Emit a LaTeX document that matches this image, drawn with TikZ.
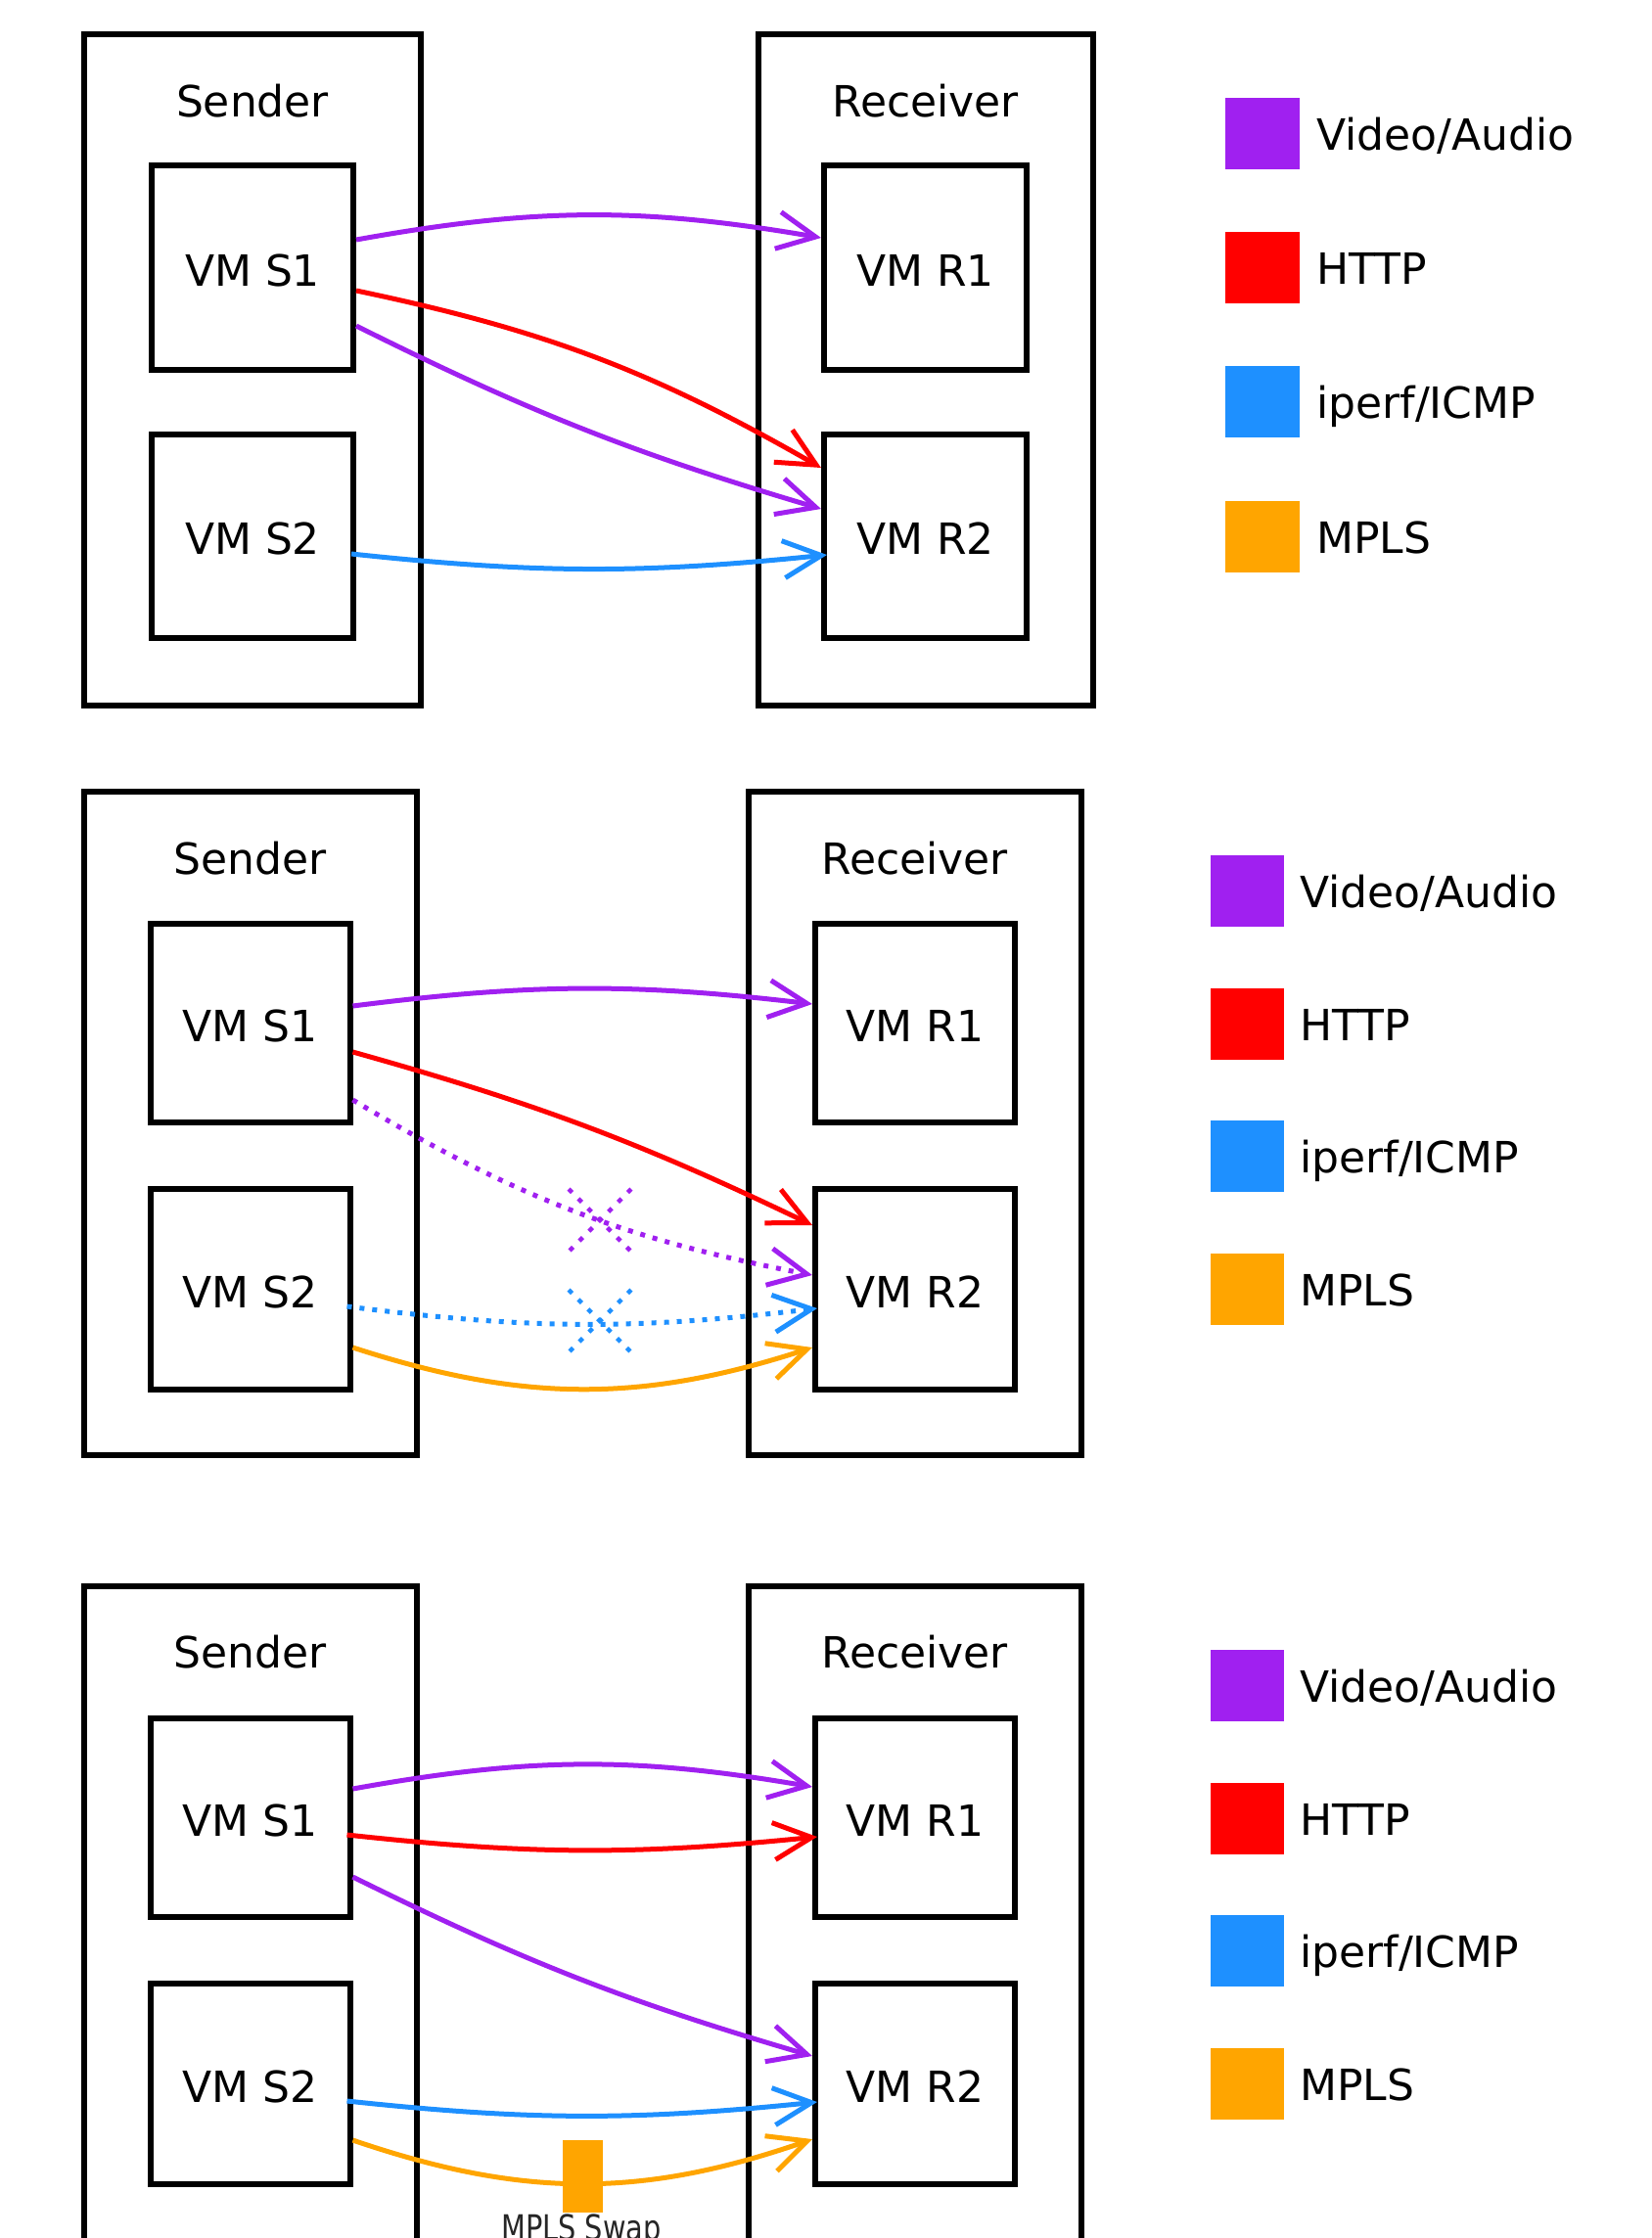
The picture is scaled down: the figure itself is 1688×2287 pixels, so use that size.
\documentclass[tikz,border=0pt]{standalone}
\usepackage{fontspec}
\setmainfont{DejaVu Sans}
\newfontfamily\swapfont[FakeStretch=0.8]{DejaVu Sans}
\usetikzlibrary{arrows.meta,calc}

\definecolor{vidcol}{RGB}{160,32,240}
\definecolor{httpcol}{RGB}{255,0,0}
\definecolor{icmpcol}{RGB}{30,144,255}
\definecolor{mplscol}{RGB}{255,165,0}

\tikzset{
  bigfont/.style={font=\fontsize{44pt}{52pt}\selectfont},
  hostbox/.style={draw=black, line width=6pt, inner sep=0pt, outer sep=0pt},
  hostlabel/.style={bigfont, inner sep=0pt, anchor=base},
  vmbox/.style={draw=black, line width=6pt, inner sep=0pt, outer sep=3pt,
    bigfont, text height=37pt, text depth=0pt},
  legsq/.style={inner sep=0pt, outer sep=0pt, minimum height=73pt},
  legtext/.style={bigfont, inner sep=0pt, anchor=base west},
  flow/.style={line width=5pt, -{Straight Barb[length=39pt,width=38pt]}},
  dotflow/.style={flow, dash pattern=on 5pt off 8pt},
  xmark/.style={line width=4.5pt, dash pattern=on 5pt off 9pt},
}

\begin{document}
\begin{tikzpicture}[x=1pt, y=-1pt]
\useasboundingbox (0,0) rectangle (1688,2287);
\clip (0,0) rectangle (1688,2287);

% ---------------- normal operation ----------------
\node[hostbox, minimum width=344pt, minimum height=686.5pt] (snd1) at (258,377.75) {};
\node[hostbox, minimum width=342.5pt, minimum height=686.5pt] (rcv1) at (945.75,377.75) {};
\node[hostlabel] (snd1t) at (258,119) {Sender};
\node[hostlabel] (rcv1t) at (945.75,119) {Receiver};
\node[vmbox, minimum width=206pt, minimum height=209pt] (s1a) at (258,273.5) {VM S1};
\node[vmbox, minimum width=206pt, minimum height=208.5pt] (s2a) at (258,547.75) {VM S2};
\node[vmbox, minimum width=207pt, minimum height=209pt] (r1a) at (945.5,273.5) {VM R1};
\node[vmbox, minimum width=207pt, minimum height=208.5pt] (r2a) at (945.5,547.75) {VM R2};

\draw[flow, vidcol] ([yshift=28.5pt]s1a.east) to[bend left=10] ([yshift=30.5pt]r1a.west);
\draw[flow, httpcol] ([yshift=-23.5pt]s1a.east) to[bend left=9] ([yshift=69.75pt]r2a.west);
\draw[flow, vidcol] ([yshift=-59.5pt]s1a.east) to[bend right=5] ([yshift=27.75pt]r2a.west);
\draw[flow, icmpcol] ([xshift=-5pt, yshift=-18.25pt]s2a.east) to[bend right=6] ([xshift=6pt, yshift=-19.25pt]r2a.west);

\node[legsq, minimum width=76pt, fill=vidcol] (lg1a) at (1290,136.5) {};
\node[legsq, minimum width=76pt, fill=httpcol] (lg1b) at (1290,273.5) {};
\node[legsq, minimum width=76pt, fill=icmpcol] (lg1c) at (1290,410.5) {};
\node[legsq, minimum width=76pt, fill=mplscol] (lg1d) at (1290,548.5) {};
\node[legtext] (lt1a) at ([xshift=17pt, yshift=-17pt]lg1a.east) {Video/Audio};
\node[legtext] (lt1b) at ([xshift=17pt, yshift=-17pt]lg1b.east) {HTTP};
\node[legtext] (lt1c) at ([xshift=17pt, yshift=-17pt]lg1c.east) {iperf/ICMP};
\node[legtext] (lt1d) at ([xshift=17pt, yshift=-17pt]lg1d.east) {MPLS};

% ---------------- link failure ----------------
\node[hostbox, minimum width=339.5pt, minimum height=678pt] (snd2) at (255.75,1148) {};
\node[hostbox, minimum width=339.5pt, minimum height=678pt] (rcv2) at (934.75,1148) {};
\node[hostlabel] (snd2t) at (255.75,893) {Sender};
\node[hostlabel] (rcv2t) at (934.75,893) {Receiver};
\node[vmbox, minimum width=203.5pt, minimum height=203pt] (s1b) at (255.75,1045.5) {VM S1};
\node[vmbox, minimum width=203.5pt, minimum height=205pt] (s2b) at (255.75,1317.5) {VM S2};
\node[vmbox, minimum width=204pt, minimum height=203pt] (r1b) at (935,1045.5) {VM R1};
\node[vmbox, minimum width=204pt, minimum height=205pt] (r2b) at (935,1317.5) {VM R2};

\draw[flow, vidcol] ([yshift=17.5pt]s1b.east) to[bend left=7] ([yshift=19.5pt]r1b.west);
\draw[flow, httpcol] ([yshift=-29.5pt]s1b.east) to[bend left=5] ([yshift=65.5pt]r2b.west);
\draw[dotflow, vidcol] ([yshift=-78.5pt]s1b.east) to[bend right=10] ([yshift=14.5pt]r2b.west);
\draw[dotflow, icmpcol] ([xshift=-6pt, yshift=-17.5pt]s2b.east) to[bend right=7] ([xshift=5pt, yshift=-19.5pt]r2b.west);
\draw[flow, mplscol] ([yshift=-59.5pt]s2b.east) to[bend right=18] ([yshift=-59.5pt]r2b.west);

\coordinate (cutv) at (613,1247);
\coordinate (cuti) at (613,1350);
\draw[xmark, vidcol] ($(cutv)+(-32,-32)$) -- ($(cutv)+(32,32)$);
\draw[xmark, vidcol] ($(cutv)+(32,-32)$) -- ($(cutv)+(-32,32)$);
\draw[xmark, icmpcol] ($(cuti)+(-32,-32)$) -- ($(cuti)+(32,32)$);
\draw[xmark, icmpcol] ($(cuti)+(32,-32)$) -- ($(cuti)+(-32,32)$);

\node[legsq, minimum width=75pt, fill=vidcol] (lg2a) at (1274.5,910.5) {};
\node[legsq, minimum width=75pt, fill=httpcol] (lg2b) at (1274.5,1046.5) {};
\node[legsq, minimum width=75pt, fill=icmpcol] (lg2c) at (1274.5,1181.5) {};
\node[legsq, minimum width=75pt, fill=mplscol] (lg2d) at (1274.5,1317.5) {};
\node[legtext] (lt2a) at ([xshift=16pt, yshift=-17pt]lg2a.east) {Video/Audio};
\node[legtext] (lt2b) at ([xshift=16pt, yshift=-17pt]lg2b.east) {HTTP};
\node[legtext] (lt2c) at ([xshift=16pt, yshift=-17pt]lg2c.east) {iperf/ICMP};
\node[legtext] (lt2d) at ([xshift=16pt, yshift=-17pt]lg2d.east) {MPLS};

% ---------------- rerouted over MPLS ----------------
\node[hostbox, minimum width=339.5pt, minimum height=678pt] (snd3) at (255.75,1960) {};
\node[hostbox, minimum width=339.5pt, minimum height=678pt] (rcv3) at (934.75,1960) {};
\node[hostlabel] (snd3t) at (255.75,1704) {Sender};
\node[hostlabel] (rcv3t) at (934.75,1704) {Receiver};
\node[vmbox, minimum width=203.5pt, minimum height=203pt] (s1c) at (255.75,1857.5) {VM S1};
\node[vmbox, minimum width=203.5pt, minimum height=205pt] (s2c) at (255.75,2129.5) {VM S2};
\node[vmbox, minimum width=204pt, minimum height=203pt] (r1c) at (935,1857.5) {VM R1};
\node[vmbox, minimum width=204pt, minimum height=205pt] (r2c) at (935,2129.5) {VM R2};

\draw[flow, vidcol] ([yshift=29.5pt]s1c.east) to[bend left=10] ([yshift=31.5pt]r1c.west);
\draw[flow, httpcol] ([xshift=-6pt, yshift=-17.5pt]s1c.east) to[bend right=6] ([xshift=5pt, yshift=-19.5pt]r1c.west);
\draw[flow, vidcol] ([yshift=-60.5pt]s1c.east) to[bend right=5] ([yshift=28.5pt]r2c.west);
\draw[flow, icmpcol] ([xshift=-6pt, yshift=-17.5pt]s2c.east) to[bend right=6] ([xshift=5pt, yshift=-18.5pt]r2c.west);
\draw[flow, mplscol] ([yshift=-57.5pt]s2c.east) to[bend right=19] ([yshift=-56.5pt]r2c.west);

\node[fill=mplscol, inner sep=0pt, minimum width=41pt, minimum height=74pt] (swap) at (595.5,2223.5) {};
\node[anchor=north, inner sep=0pt, text=black!85, font=\swapfont\fontsize{36pt}{40pt}\selectfont] (swapt) at (594,2263) {MPLS Swap};

\node[legsq, minimum width=75pt, fill=vidcol] (lg3a) at (1274.5,1722.5) {};
\node[legsq, minimum width=75pt, fill=httpcol] (lg3b) at (1274.5,1858.5) {};
\node[legsq, minimum width=75pt, fill=icmpcol] (lg3c) at (1274.5,1993.5) {};
\node[legsq, minimum width=75pt, fill=mplscol] (lg3d) at (1274.5,2129.5) {};
\node[legtext] (lt3a) at ([xshift=16pt, yshift=-17pt]lg3a.east) {Video/Audio};
\node[legtext] (lt3b) at ([xshift=16pt, yshift=-17pt]lg3b.east) {HTTP};
\node[legtext] (lt3c) at ([xshift=16pt, yshift=-17pt]lg3c.east) {iperf/ICMP};
\node[legtext] (lt3d) at ([xshift=16pt, yshift=-17pt]lg3d.east) {MPLS};
\end{tikzpicture}
\end{document}
